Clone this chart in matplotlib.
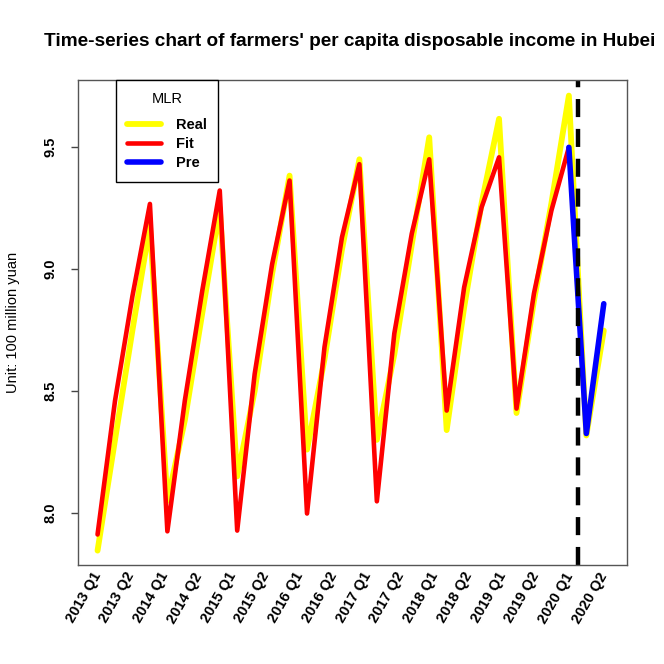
import numpy as np
import matplotlib
matplotlib.use("Agg")
import matplotlib.pyplot as plt

plt.rcParams['font.family'] = ['Liberation Sans', 'DejaVu Sans']
plt.rcParams['lines.scale_dashes'] = False

# quarterly values, 2013 Q1 .. 2020 Q2 (log scale, 100 million yuan)
real = [7.846, 8.30, 8.75, 9.18,
        8.05, 8.38, 8.82, 9.25,
        8.15, 8.50, 8.98, 9.383,
        8.26, 8.63, 9.08, 9.45,
        8.30, 8.65, 9.10, 9.54,
        8.34, 8.843, 9.27, 9.616,
        8.41, 8.87, 9.27, 9.711,
        8.318, 8.748]
fit = [7.912, 8.46, 8.89, 9.267,
       7.925, 8.461, 8.912, 9.322,
       7.928, 8.57, 9.02, 9.363,
       7.998, 8.68, 9.13, 9.43,
       8.048, 8.736, 9.145, 9.45,
       8.42, 8.925, 9.253, 9.458,
       8.428, 8.90, 9.24, 9.499]
pre = [9.499, 8.326, 8.858]   # 2019 Q4 .. 2020 Q2

tick_labels = ["%d Q%d" % (2013 + k // 2, k % 2 + 1) for k in range(16)]
split_at = 27.5

x_real = np.arange(len(real))
x_fit = np.arange(len(fit))
x_pre = np.arange(len(fit) - 1, len(fit) - 1 + len(pre))

fig = plt.figure(figsize=(6.64, 6.64), dpi=100)
ax = fig.add_axes([78 / 664, 1 - 565 / 664, 549 / 664, 485 / 664])

ax.plot(x_real, real, color="yellow", lw=4.2, solid_capstyle="round", label="Real")
ax.plot(x_fit, fit, color="red", lw=3.3, solid_capstyle="round", label="Fit")
ax.plot(x_pre, pre, color="blue", lw=4.0, solid_capstyle="round", label="Pre")
ax.axvline(split_at, color="black", lw=3.2, linestyle=(0, (13, 8.5)))

n = len(real)
ax.set_xlim(-1.12, 30.33)
ax.set_ylim(7.787, 9.775)

ax.set_yticks([8.0, 8.5, 9.0, 9.5])
ax.set_yticklabels(["8.0", "8.5", "9.0", "9.5"], rotation=90, va="center",
                   fontsize=10.5, fontweight="bold")
ax.tick_params(axis="y", length=5, width=1, pad=10, color="#444444")

ax.set_xticks(np.linspace(0, n - 1, len(tick_labels)))
ax.set_xticklabels(tick_labels, rotation=60, ha="right", va="center",
                   rotation_mode="anchor", fontsize=10.5, fontweight="bold")
ax.tick_params(axis="x", length=0, pad=6)

for s in ax.spines.values():
    s.set_color("#555555")
    s.set_linewidth(1)

fig.text(13 / 664, 1 - 322 / 664, "Unit: 100 million yuan", rotation=90,
         ha="center", va="center", fontsize=10.5)

fig.text(0.527, 1 - 42 / 664,
         "Time-series chart of farmers' per capita disposable income in Hubei",
         ha="center", va="center", fontsize=13.7, fontweight="bold")

leg = ax.legend(title="MLR", loc="upper left", bbox_to_anchor=(0.0687, 1.0),
                borderaxespad=0, fancybox=False, edgecolor="black",
                framealpha=1, handlelength=2.3, handletextpad=1.0,
                borderpad=0.8, labelspacing=0.35,
                prop={"size": 10.5, "weight": "bold"}, title_fontsize=10.5)
leg.get_frame().set_linewidth(1)
leg._legend_box.sep = 9

fig.savefig("out.png", dpi=100)
